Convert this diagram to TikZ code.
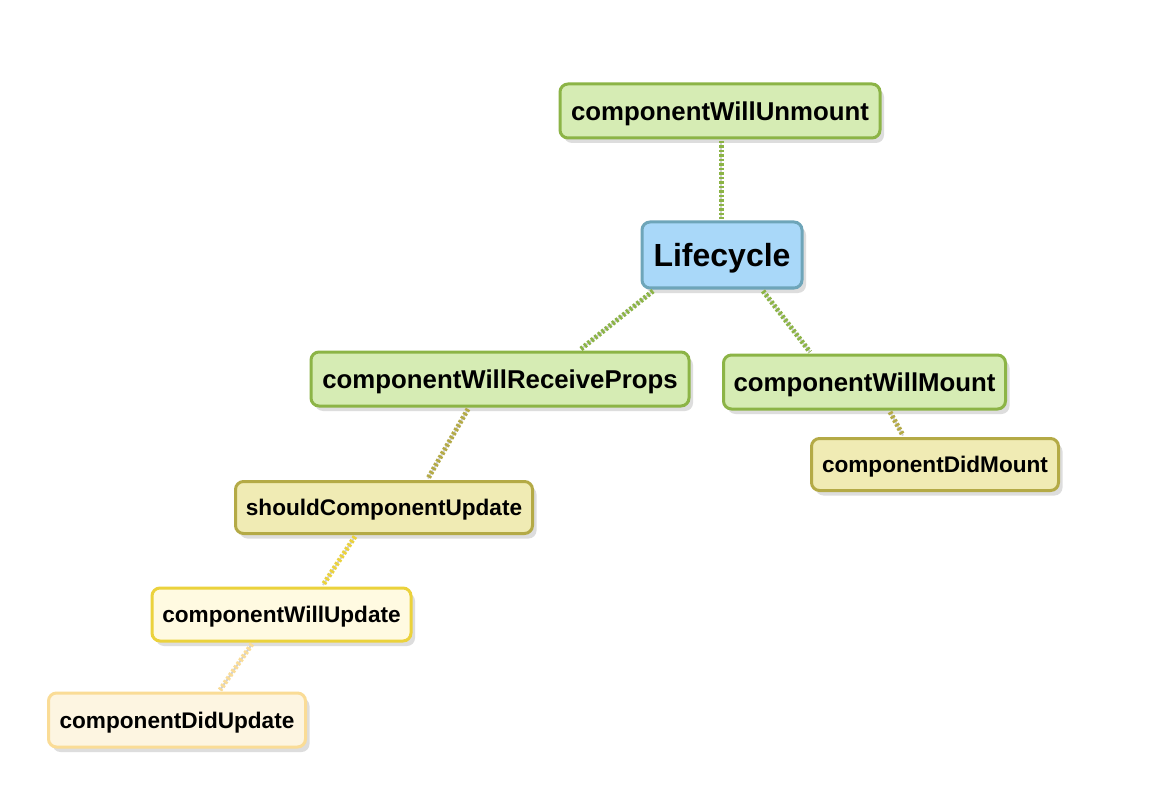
\documentclass[tikz,border=0pt]{standalone}
\usepackage{fontspec}
\setmainfont{Liberation Sans}
\usetikzlibrary{calc,shadows}
\definecolor{grfill}{RGB}{214,236,180}
\definecolor{grline}{RGB}{140,180,70}
\definecolor{blfill}{RGB}{169,216,249}
\definecolor{blline}{RGB}{110,165,185}
\definecolor{olfill}{RGB}{240,235,180}
\definecolor{olline}{RGB}{180,170,70}
\definecolor{yefill}{RGB}{255,250,225}
\definecolor{yeline}{RGB}{235,210,60}
\definecolor{pafill}{RGB}{253,245,225}
\definecolor{paline}{RGB}{250,220,150}
\tikzset{
  boxbase/.style={rectangle, rounded corners=8pt, line width=3pt, inner sep=0pt,
    text depth=0pt,
    font=\bfseries\fontsize{22.6}{26}\selectfont, align=center,
    drop shadow={shadow xshift=4pt, shadow yshift=-5pt, opacity=0.22, fill=black!60}},
  bigtext/.style={font=\bfseries\fontsize{25.8}{30}\selectfont},
  greenbox/.style={boxbase, bigtext, fill=grfill, draw=grline},
  bluebox/.style={boxbase, fill=blfill, draw=blline, font=\bfseries\fontsize{32}{36}\selectfont},
  olivebox/.style={boxbase, fill=olfill, draw=olline},
  yellowbox/.style={boxbase, fill=yefill, draw=yeline},
  palebox/.style={boxbase, fill=pafill, draw=paline},
  linkshadow/.style={line width=2pt, black!18, shift={(3pt,-3pt)}},
  linkdots/.style={line width=5pt, dash pattern=on 2.5pt off 2pt},
}
\newcommand{\linkdraw}[3]{%
  \draw[linkshadow] #1 -- #2;
  \draw[linkdots, #3] #1 -- #2;}
\begin{document}
\begin{tikzpicture}[x=1pt,y=-1pt]
\useasboundingbox[fill=white] (0,0) rectangle (1164,810);
% nodes
\node[greenbox, minimum width=320pt, minimum height=54pt] (unmount) at (720,111) {componentWillUnmount};
\node[bluebox, minimum width=160pt, minimum height=66pt] (life) at (722,255) {Lifecycle};
\node[greenbox, minimum width=378pt, minimum height=54pt] (recv) at (500,379) {componentWillReceiveProps};
\node[greenbox, minimum width=282pt, minimum height=54pt] (wmount) at (864.5,382) {componentWillMount};
\node[olivebox, minimum width=247pt, minimum height=52pt] (dmount) at (935,464.5) {componentDidMount};
\node[olivebox, minimum width=297pt, minimum height=52pt] (scu) at (384,507.5) {shouldComponentUpdate};
\node[yellowbox, minimum width=259pt, minimum height=53pt] (wupd) at (281.5,614.5) {componentWillUpdate};
\node[palebox, minimum width=257pt, minimum height=54pt] (dupd) at (177,720) {componentDidUpdate};
% connectors
\linkdraw{($(unmount.south)+(1,1.5)$)}{($(life.north)+(-1,-1.5)$)}{grline}
\linkdraw{($(life.south)+(-69,1.5)$)}{($(recv.north)+(81,-1.5)$)}{grline}
\linkdraw{($(life.south)+(41,1.5)$)}{($(wmount.north)+(-54.5,-1.5)$)}{grline}
\linkdraw{($(recv.south)+(-32,1.5)$)}{($(scu.north)+(44,-1.5)$)}{olline}
\linkdraw{($(scu.south)+(-29,1.5)$)}{($(wupd.north)+(41.5,-1.5)$)}{yeline}
\linkdraw{($(wupd.south)+(-29.5,1.5)$)}{($(dupd.north)+(43,-1.5)$)}{paline}
\linkdraw{($(wmount.south)+(25.5,1.5)$)}{($(dmount.north)+(-32,-1.5)$)}{olline}
\end{tikzpicture}
\end{document}
